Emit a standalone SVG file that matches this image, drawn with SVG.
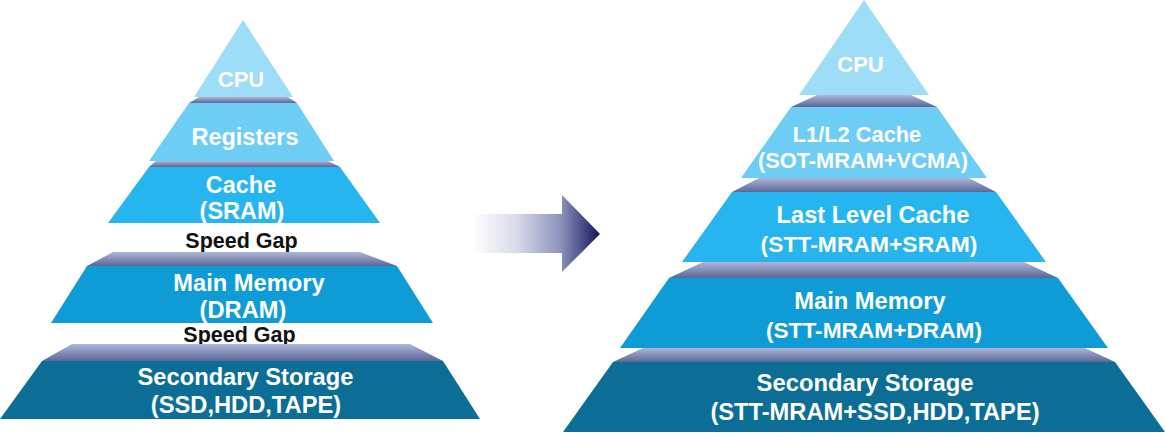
<svg xmlns="http://www.w3.org/2000/svg" width="1166" height="440" viewBox="0 0 1166 440">
<style>
.t{font-family:"Liberation Sans",Arial,Helvetica,sans-serif;font-weight:bold;fill:#ffffff;text-anchor:middle}
.g{font-family:"Liberation Sans",Arial,Helvetica,sans-serif;font-weight:bold;fill:#111111;text-anchor:middle;font-size:21.5px}
.c1{fill:#9DDDF7}
.c2{fill:#6DCDF4}
.c3{fill:#27B5EF}
.c4{fill:#0F9CD6}
.c5{fill:#0C6E97}
.band{fill:url(#bandGrad)}
</style>
<defs>
<linearGradient id="bandGrad" x1="0" y1="0" x2="0" y2="1">
<stop offset="0" stop-color="#AEB5DA"/>
<stop offset="1" stop-color="#5A6797"/>
</linearGradient>
<linearGradient id="arrowGrad" gradientUnits="userSpaceOnUse" x1="472" y1="0" x2="600" y2="0">
<stop offset="0" stop-color="#FFFFFF"/>
<stop offset="0.35" stop-color="#D8DAEA"/>
<stop offset="0.7" stop-color="#8A90BA"/>
<stop offset="1" stop-color="#14165A"/>
</linearGradient>
</defs>
<rect width="1166" height="440" fill="#ffffff"/>

<!-- Left pyramid -->
<g id="left-cpu">
<polygon class="c1" points="243,20 293,97 194,97"/>
<text class="t" x="241" y="87" font-size="22">CPU</text>
</g>
<g id="left-registers">
<polygon class="band" points="199,97 288,97 297,103 189,103"/>
<polygon class="c2" points="189,103 297,103 334,161 149,161"/>
<text class="t" x="245" y="145" font-size="23.5">Registers</text>
</g>
<g id="left-cache">
<polygon class="band" points="156,161 328,161 340,167 149,167"/>
<polygon class="c3" points="149,167 340,167 380,223 108,223"/>
<text class="t" x="241" y="193" font-size="23.5">Cache</text>
<text class="t" x="242" y="219" font-size="23.5">(SRAM)</text>
</g>
<g id="left-gap1">
<text class="g" x="241.5" y="248">Speed Gap</text>
</g>
<g id="left-main">
<polygon class="band" points="113,252 360,252 397,266 87,266"/>
<polygon class="c4" points="87,266 397,266 433,323 51,323"/>
<text class="t" x="249" y="291" font-size="23.7">Main Memory</text>
<text class="t" x="243" y="318" font-size="23.7">(DRAM)</text>
</g>
<g id="left-gap2">
<text class="g" x="239.5" y="342">Speed Gap</text>
</g>
<g id="left-secondary">
<polygon class="band" points="72,344 410,344 443,361 42,361"/>
<polygon class="c5" points="42,361 443,361 480,419 0,419"/>
<text class="t" x="245.5" y="385" font-size="23.7">Secondary Storage</text>
<text class="t" x="246" y="413" font-size="23.7">(SSD,HDD,TAPE)</text>
</g>

<!-- Connector -->
<g id="connectors">
<polygon fill="url(#arrowGrad)" points="472,214 562,214 562,195 600,234 562,272 562,253 472,253"/>
</g>

<!-- Right pyramid -->
<g id="right-cpu">
<polygon class="c1" points="864,0 929,95 799,95"/>
<text class="t" x="860.5" y="72" font-size="22">CPU</text>
</g>
<g id="right-l1l2">
<polygon class="band" points="817,95 911,95 937,107 791,107"/>
<polygon class="c2" points="791,107 937,107 987,178 741,178"/>
<text class="t" x="857" y="142" font-size="21.8">L1/L2 Cache</text>
<text class="t" x="863" y="168" font-size="21.8">(SOT-MRAM+VCMA)</text>
</g>
<g id="right-llc">
<polygon class="band" points="759,178 969,178 996,192 732,192"/>
<polygon class="c3" points="732,192 996,192 1046,262 682,262"/>
<text class="t" x="873" y="223" font-size="23.6">Last Level Cache</text>
<text class="t" x="869" y="252" font-size="22.9">(STT-MRAM+SRAM)</text>
</g>
<g id="right-main">
<polygon class="band" points="703,262 1024,262 1058,278 669,278"/>
<polygon class="c4" points="669,278 1058,278 1108,348 620,348"/>
<text class="t" x="870" y="309" font-size="23.7">Main Memory</text>
<text class="t" x="874" y="338" font-size="22.7">(STT-MRAM+DRAM)</text>
</g>
<g id="right-secondary">
<polygon class="band" points="643,348 1085,348 1115,362 613,362"/>
<polygon class="c5" points="613,362 1115,362 1165,432 563,432"/>
<text class="t" x="865" y="391" font-size="23.8">Secondary Storage</text>
<text class="t" x="875" y="420" font-size="23.7">(STT-MRAM+SSD,HDD,TAPE)</text>
</g>
</svg>
